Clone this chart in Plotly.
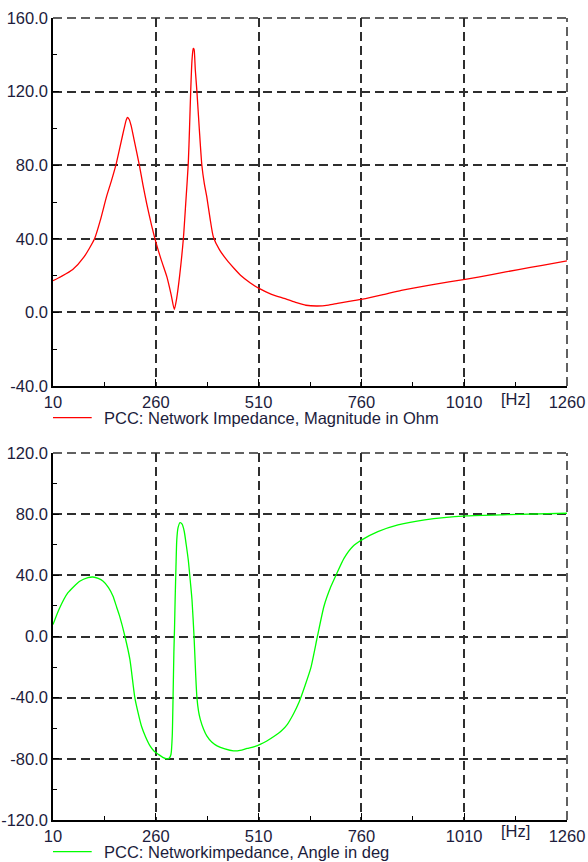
import plotly.graph_objects as go

# ---- data ----
freq_mag = [10, 30, 58, 85, 111, 125, 140, 152, 164, 175, 183, 188, 191, 195, 200, 207, 220,
            229, 238, 250, 261, 274, 287, 297, 305, 311, 318, 327, 333, 339, 342, 345, 348,
            351, 353, 356, 360, 366, 372, 378, 384, 392, 400, 415, 433, 450, 466, 490, 510,
            540, 572, 600, 625, 653, 680, 702, 730, 763, 810, 857, 930, 1016, 1080, 1142,
            1200, 1260]
mag_ohm = [17.2, 19.5, 23.3, 30.0, 40.0, 50.0, 62.8, 71.5, 81.0, 92.0, 100.0, 104.5, 106.0,
           105.0, 101.5, 94.0, 80.0, 69.0, 59.0, 47.0, 37.5, 28.0, 19.3, 10.0, 1.6, 8.0,
           20.0, 40.0, 60.0, 81.0, 100.0, 121.0, 137.0, 143.5, 143.0, 132.0, 120.0, 99.0,
           80.0, 70.0, 62.8, 51.0, 41.0, 34.0, 28.4, 24.0, 20.2, 16.0, 13.2, 10.0, 7.6, 5.5,
           3.9, 3.5, 4.0, 4.9, 6.0, 7.2, 9.5, 12.0, 15.0, 18.1, 20.7, 23.3, 25.6, 28.0]

freq_ang = [10, 25, 46, 75, 95, 107, 120, 132, 145, 156, 165, 172, 185, 197, 209, 217, 225,
            235, 246, 256, 266, 277, 287, 293, 297, 300, 302, 304, 305.5, 307, 309, 311, 314,
            319, 324, 329, 334, 339, 344, 348, 353, 357, 360, 364, 368, 376, 384, 396, 409,
            428, 449, 465, 482, 500, 515, 530, 547, 565, 580, 595, 608, 623, 637, 653, 669,
            686, 698, 718, 739, 761, 800, 849, 914, 1016, 1117, 1260]
ang_deg = [7.8, 18.0, 28.5, 36.1, 38.5, 38.9, 38.0, 36.1, 32.0, 26.3, 19.0, 13.3, 0.0, -15.0,
           -40.0, -50.0, -58.5, -65.5, -71.5, -75.0, -77.0, -79.0, -80.0, -79.5, -77.0, -65.0,
           -40.0, -10.0, 5.0, 24.0, 45.0, 63.0, 71.0, 74.5, 73.5, 69.0, 60.0, 50.0, 36.0, 24.0,
           0.0, -25.0, -40.0, -49.0, -54.0, -60.5, -65.0, -69.0, -71.5, -73.5, -74.8, -74.5,
           -73.2, -72.0, -70.4, -68.3, -65.4, -61.8, -57.4, -50.5, -43.2, -32.0, -20.5, 0.0,
           19.8, 32.8, 40.0, 51.3, 58.9, 63.2, 68.6, 73.0, 76.3, 78.9, 79.7, 80.6]

x_ticks = [10, 260, 510, 760, 1010, 1260]
mag_ticks = [-40, 0, 40, 80, 120, 160]
ang_ticks = [-120, -80, -40, 0, 40, 80, 120]
mag_label = "PCC: Network Impedance, Magnitude in Ohm"
ang_label = "PCC: Networkimpedance, Angle in deg"
unit_label = "[Hz]"
unit_pos = 1135

FONT = "Liberation Sans, Arial, sans-serif"
FS = 16.5
TXT = "#1c1c3c"
GRID = "#2e2e2e"
DASH = "9px,5px"

fig = go.Figure()
fig.add_trace(go.Scatter(x=freq_mag, y=mag_ohm, mode="lines", xaxis="x", yaxis="y",
                         line=dict(color="#ff0000", width=1.3, shape="spline", smoothing=0.6),
                         name=mag_label, showlegend=False))
fig.add_trace(go.Scatter(x=freq_ang, y=ang_deg, mode="lines", xaxis="x2", yaxis="y2",
                         line=dict(color="#00ff00", width=1.3, shape="spline", smoothing=0.6),
                         name=ang_label, showlegend=False))

def xaxis_cfg(anchor):
    return dict(range=[10, 1260], tickvals=x_ticks, ticktext=[str(v) for v in x_ticks],
                anchor=anchor, showline=True, linecolor="black", linewidth=1.5, mirror=False,
                showgrid=True, gridcolor=GRID, gridwidth=1.5, griddash=DASH,
                zeroline=False, ticks="inside", ticklen=7, tickcolor="black", tickwidth=1.3,
                minor=dict(tickvals=[135, 385, 635, 885, 1135], ticks="inside", ticklen=4,
                           tickcolor="black", tickwidth=1.3, showgrid=False),
                tickfont=dict(family=FONT, size=FS, color=TXT), fixedrange=True,
                automargin=False)

def yaxis_cfg(anchor, rng, tv, minor_vals, domain):
    return dict(range=rng, tickvals=tv, ticktext=[f"{v:.1f}" for v in tv], anchor=anchor,
                domain=domain, showline=True, linecolor="black", linewidth=1.5, mirror=False,
                showgrid=True, gridcolor=GRID, gridwidth=1.5, griddash=DASH,
                zeroline=False, ticks="inside", ticklen=6, tickcolor="black", tickwidth=1.3,
                minor=dict(tickvals=minor_vals, ticks="inside", ticklen=4, tickcolor="black",
                           tickwidth=1.3, showgrid=False),
                tickfont=dict(family=FONT, size=FS, color=TXT), fixedrange=True,
                automargin=False)

fig.update_layout(
    width=588, height=862,
    margin=dict(l=53, r=21, t=18, b=42, autoexpand=False),
    paper_bgcolor="white", plot_bgcolor="white",
    xaxis=xaxis_cfg("y"),
    yaxis=yaxis_cfg("x", [-40, 160], mag_ticks, [-20, 20, 60, 100, 140], [0.5411, 1.0]),
    xaxis2=xaxis_cfg("y2"),
    yaxis2=yaxis_cfg("x2", [-120, 120], ang_ticks, [-100, -60, -20, 20, 60, 100], [0.0, 0.4576]),
    showlegend=False,
)

# dashed top and right frame lines (grid lines at the range ends)
for xr, yr in (("x", "y"), ("x2", "y2")):
    fig.add_shape(type="line", xref=f"{xr} domain", yref=f"{yr} domain", x0=0, x1=1, y0=1, y1=1,
                  line=dict(color=GRID, width=1.5, dash=DASH))
    fig.add_shape(type="line", xref=f"{xr} domain", yref=f"{yr} domain", x0=1, x1=1, y0=0, y1=1,
                  line=dict(color=GRID, width=1.5, dash=DASH))

# "[Hz]" unit labels among the x tick labels
for yp in (0.5249, -0.0137):
    fig.add_annotation(x=unit_pos, xref="x", y=yp, yref="paper", text=unit_label,
                       showarrow=False, xanchor="center", yanchor="middle",
                       font=dict(family=FONT, size=FS, color=TXT))

# legend rows below each panel
for yp, col, label in ((0.5016, "#ff0000", mag_label), (-0.0395, "#00ff00", ang_label)):
    fig.add_shape(type="line", xref="paper", yref="paper", x0=0.0, x1=0.0753, y0=yp, y1=yp,
                  line=dict(color=col, width=1.3))
    fig.add_annotation(x=0.0947, xref="paper", y=yp, yref="paper", text=label,
                       showarrow=False, xanchor="left", yanchor="middle",
                       font=dict(family=FONT, size=FS, color=TXT))

fig.write_html("out.html", config={"displayModeBar": False},
               post_script="document.body.style.margin='0';document.body.style.overflow='hidden';")
